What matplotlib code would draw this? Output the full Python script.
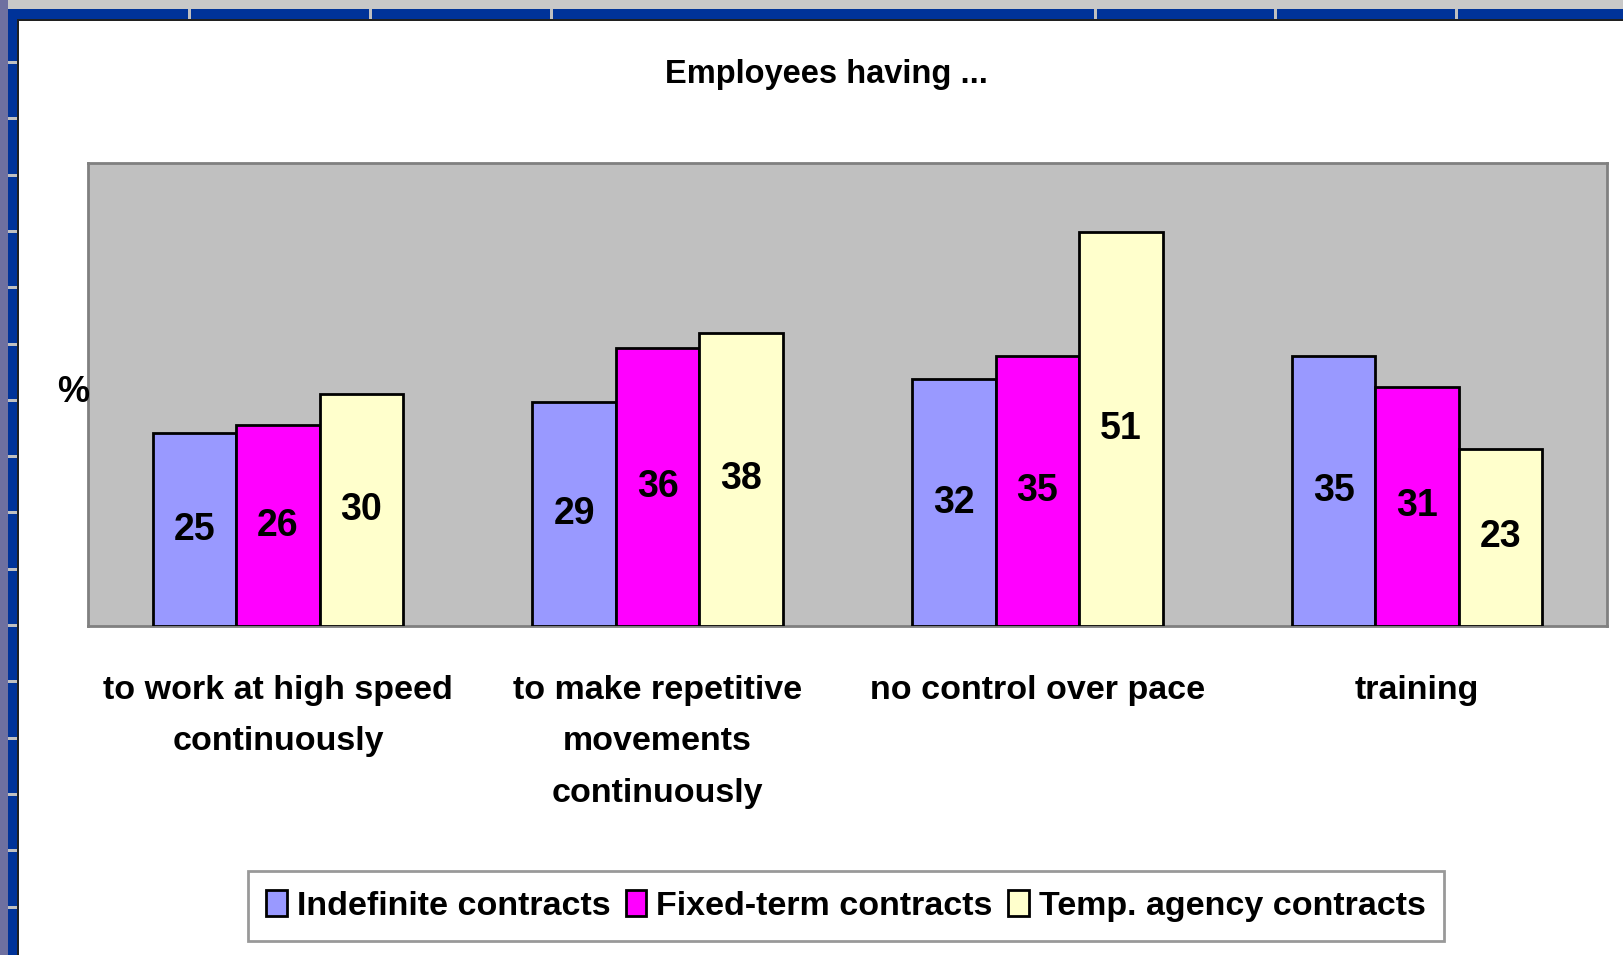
import matplotlib
matplotlib.use("Agg")
from matplotlib import pyplot as plt
import matplotlib.patches as patches
import numpy as np

plt.rcParams.update({'font.family': ['Liberation Sans', 'DejaVu Sans'],
                     'font.weight': 'bold'})

categories = ["to work at high speed\ncontinuously",
              "to make repetitive\nmovements\ncontinuously",
              "no control over pace",
              "training"]
series_names = ["Indefinite contracts", "Fixed-term contracts", "Temp. agency contracts"]
indefinite = [25, 29, 32, 35]
fixed_term = [26, 36, 35, 31]
temp_agency = [30, 38, 51, 23]
colors = ["#9999FF", "#FF00FF", "#FFFFCC"]

W, H = 1624, 955
fig = plt.figure(figsize=(W / 100, H / 100), dpi=100)
fig.patch.set_facecolor("white")


def px_rect(x0, y0, x1, y1, color, z=0):
    # rectangle given in pixel coordinates (origin top-left)
    fig.add_artist(patches.Rectangle((x0 / W, 1 - y1 / H), (x1 - x0) / W, (y1 - y0) / H,
                                     transform=fig.transFigure, color=color, zorder=z, lw=0))


# slide frame behind the chart
px_rect(0, 0, W, 9, "#C8C8C8")
px_rect(0, 0, 8, H, "#6E70A0")
px_rect(8, 9, W, 20, "#003399")
px_rect(8, 9, 18, H, "#003399")
for xs in [188, 369, 550, 1094, 1274, 1455]:
    px_rect(xs, 9, xs + 3, 20, "#C0C0C0")
for ys in np.arange(61, H, 56.3):
    px_rect(8, ys, 18, ys + 3, "#C0C0C0")
px_rect(18, 19, W, 21, "#202020")
px_rect(17, 19, 19, H, "#202020")

ax = fig.add_axes([88 / W, 1 - 626 / H, (1607 - 88) / W, (626 - 163) / H])
ax.set_facecolor("#C0C0C0")
for s in ax.spines.values():
    s.set_color("#808080")
    s.set_linewidth(2)

x = np.arange(len(categories))
width = 0.22
all_series = [indefinite, fixed_term, temp_agency]
for i, (vals, name, c) in enumerate(zip(all_series, series_names, colors)):
    bars = ax.bar(x + (i - 1) * width, vals, width, color=c, edgecolor="black",
                  linewidth=2, label=name, zorder=3)
    for b, v in zip(bars, vals):
        ax.text(b.get_x() + b.get_width() / 2, v / 2, str(v), ha="center", va="center",
                fontsize=27, fontweight="bold", zorder=4)

ax.set_xlim(-0.5, len(categories) - 0.5)
ax.set_ylim(0, 60)
ax.set_yticks([])
ax.set_xticks(x)
ax.set_xticklabels(categories, fontsize=24.5, fontweight="bold", linespacing=1.87,
                   va="top")
ax.tick_params(axis="x", length=0, pad=35)

fig.text(73 / W, 1 - 392 / H, "%", fontsize=26, fontweight="bold", ha="center", va="center")
fig.text(826 / W, 1 - 75 / H, "Employees having ...", fontsize=23.5, fontweight="bold",
         ha="center", va="center")

leg = fig.legend(loc="center", bbox_to_anchor=(846 / W, 1 - 906 / H), ncol=3,
                 frameon=True, fancybox=False, handlelength=0.6,
                 handleheight=0.8, handletextpad=0.3, columnspacing=0.45,
                 borderpad=0.55, borderaxespad=0, prop={'weight': 'bold', 'size': 24.5})
leg.get_frame().set_edgecolor("#808080")
leg.get_frame().set_linewidth(2)

fig.savefig("out.png", dpi=100)
